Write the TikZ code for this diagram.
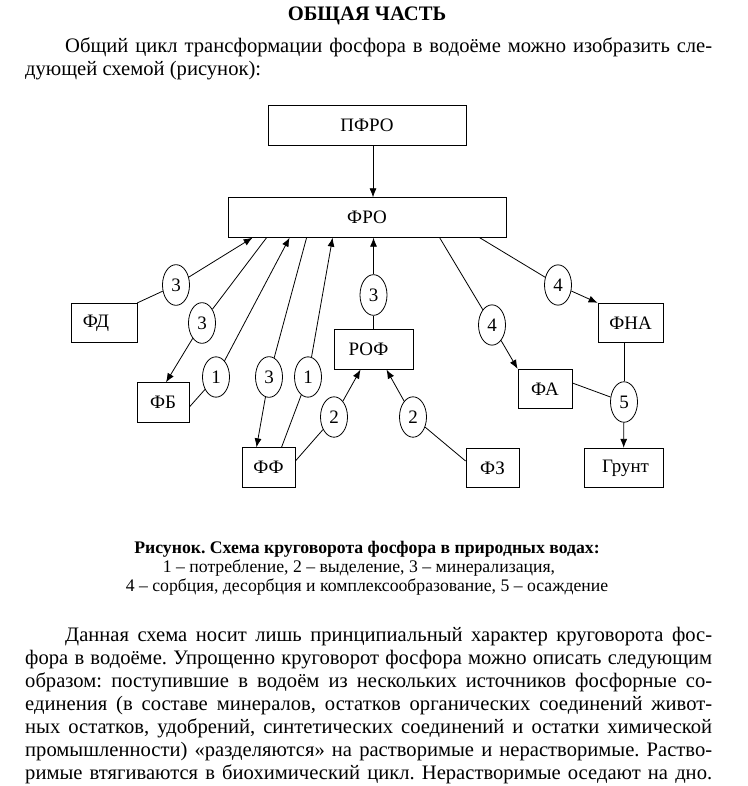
\documentclass[tikz,border=0pt]{standalone}
\usepackage{fontspec}
\setmainfont{Liberation Serif}
\usetikzlibrary{shapes.geometric,arrows.meta}

\newcommand{\bodyfont}{\fontsize{20.6}{23}\selectfont}
\newcommand{\capfont}{\fontsize{17.7}{19}\selectfont}
\newcommand{\diafont}{\fontsize{19}{21}\selectfont}

\tikzset{
  box/.style={draw, rectangle, line width=0.8pt, inner sep=0pt, minimum height=39.5pt, font=\diafont},
  num/.style={draw, shape=ellipse, line width=0.8pt, inner xsep=4.8pt, inner ysep=8pt, minimum width=27pt, minimum height=39pt, font=\diafont},
  link/.style={line width=0.8pt},
  para/.style={anchor=north west, inner sep=0pt, text width=687pt, align=justify, font=\bodyfont}
}

\begin{document}
\frenchspacing
\begin{tikzpicture}[x=1pt, y=-1pt, >={Latex[length=9pt,width=7pt]}]
        % ==== PAGE ====
        \path[use as bounding box, fill=white] (0,0) rectangle (747,786);
        % ==== HEADER ====
        \node[anchor=base, inner sep=0pt, font=\bfseries\bodyfont] (title) at (367,21) {ОБЩАЯ ЧАСТЬ};
        \node[para] (intro) at (25,35.9) {\frenchspacing\pretolerance=10000\tolerance=10000\hyphenpenalty=10000\strut\hspace*{40pt}Общий цикл трансформации фосфора в водоёме можно изобразить сле-\linebreak дующей схемой (рисунок):};

        % ==== BOXES ====
        \node[box, minimum width=198pt] (pfro) at (367,125.5) {ПФРО};
        \node[box, minimum width=278pt] (fro) at (367,217.5) {ФРО};
        \node[box, minimum width=66pt] (fd) at (104,323) {ФД\kern16pt};
        \node[box, minimum width=52pt] (fb) at (163,402.5) {ФБ};
        \node[box, minimum width=53pt] (ff) at (268.5,467.5) {ФФ};
        \node[box, minimum width=79pt] (rof) at (373.5,349.5) {РОФ\kern10pt};
        \node[box, minimum width=53pt] (fz) at (492.5,468) {ФЗ};
        \node[box, minimum width=54pt] (fa) at (545,389) {ФА};
        \node[box, minimum width=65pt] (fna) at (630.5,323) {ФНА};
        \node[box, minimum width=79pt] (grunt) at (623.5,468) {\kern4pt Грунт};

        % ==== PROCESS NUMBERS ====
        \node[num] (e3a) at (176,285) {3};
        \node[num] (e3b) at (202,323) {3};
        \node[num] (e1a) at (216,377) {1};
        \node[num] (e3c) at (269,377) {3};
        \node[num] (e1b) at (308,377) {1};
        \node[num] (e2a) at (334,417) {2};
        \node[num] (e2b) at (413,417) {2};
        \node[num] (e3d) at (373.5,295) {3};
        \node[num] (e4a) at (492,325) {4};
        \node[num] (e4b) at (558,285) {4};
        \node[num] (e5) at (624,402) {5};

        % ==== CONNECTORS ====
        \draw[->, link] ([xshift=6pt]pfro.south) -- ([xshift=6pt]fro.north);
        \draw[->, link] (fd.north east) -- (e3a) -- ([xshift=25pt]fro.south west);
        \draw[->, link] ([xshift=39pt]fro.south west) -- (e3b) -- ([xshift=3pt]fb.north);
        \draw[->, link] ([yshift=-4.5pt]fb.east) -- (e1a) -- ([xshift=62pt]fro.south west);
        \draw[->, link] ([xshift=79pt]fro.south west) -- (e3c) -- ([xshift=-12pt]ff.north);
        \draw[->, link] ([xshift=13pt]ff.north) -- (e1b) -- ([xshift=105pt]fro.south west);
        \draw[->, link] ([yshift=6.5pt]ff.east) -- (e2a) -- ([xshift=-13pt]rof.south);
        \draw[->, link] ([yshift=7pt]fz.west) -- (e2b) -- ([xshift=13pt]rof.south);
        \draw[->, link] (rof) -- (e3d) -- (rof |- fro.south);
        \draw[->, link] ([xshift=212pt]fro.south west) -- (e4a) -- (fa.north west);
        \draw[->, link] ([xshift=252pt]fro.south west) -- (e4b) -- (fna.north west);
        \draw[link] (fna.south -| e5) -- (e5);
        \draw[link] ([yshift=6pt]fa.east) -- (e5);
        \draw[->, link] (e5) -- (grunt);

        % ==== CAPTION ====
        \node[anchor=base, inner sep=0pt, font=\bfseries\capfont] (cap1) at (367,553) {Рисунок. Схема круговорота фосфора в природных водах:};
        \node[anchor=base, inner sep=0pt, font=\capfont] (cap2) at (359,572) {1 – потребление, 2 – выделение, 3 – минерализация,};
        \node[anchor=base, inner sep=0pt, font=\capfont] (cap3) at (367,591) {4 – сорбция, десорбция и комплексообразование, 5 – осаждение};

        % ==== LOWER TEXT ====
        \node[para] (lower) at (25,624.9) {\frenchspacing\pretolerance=10000\tolerance=10000\hyphenpenalty=10000\strut\hspace*{40pt}Данная схема носит лишь принципиальный характер круговорота фос-\linebreak
        фора в водоёме. Упрощенно круговорот фосфора можно описать следующим\linebreak
        образом: поступившие в водоём из нескольких источников фосфорные со-\linebreak
        единения (в составе минералов, остатков органических соединений живот-\linebreak
        ных остатков, удобрений, синтетических соединений и остатки химической\linebreak
        промышленности) «разделяются» на растворимые и нерастворимые. Раство-\linebreak
        римые втягиваются в биохимический цикл. Нерастворимые оседают на дно.\unskip\parfillskip=0pt\par};
\end{tikzpicture}
\end{document}
